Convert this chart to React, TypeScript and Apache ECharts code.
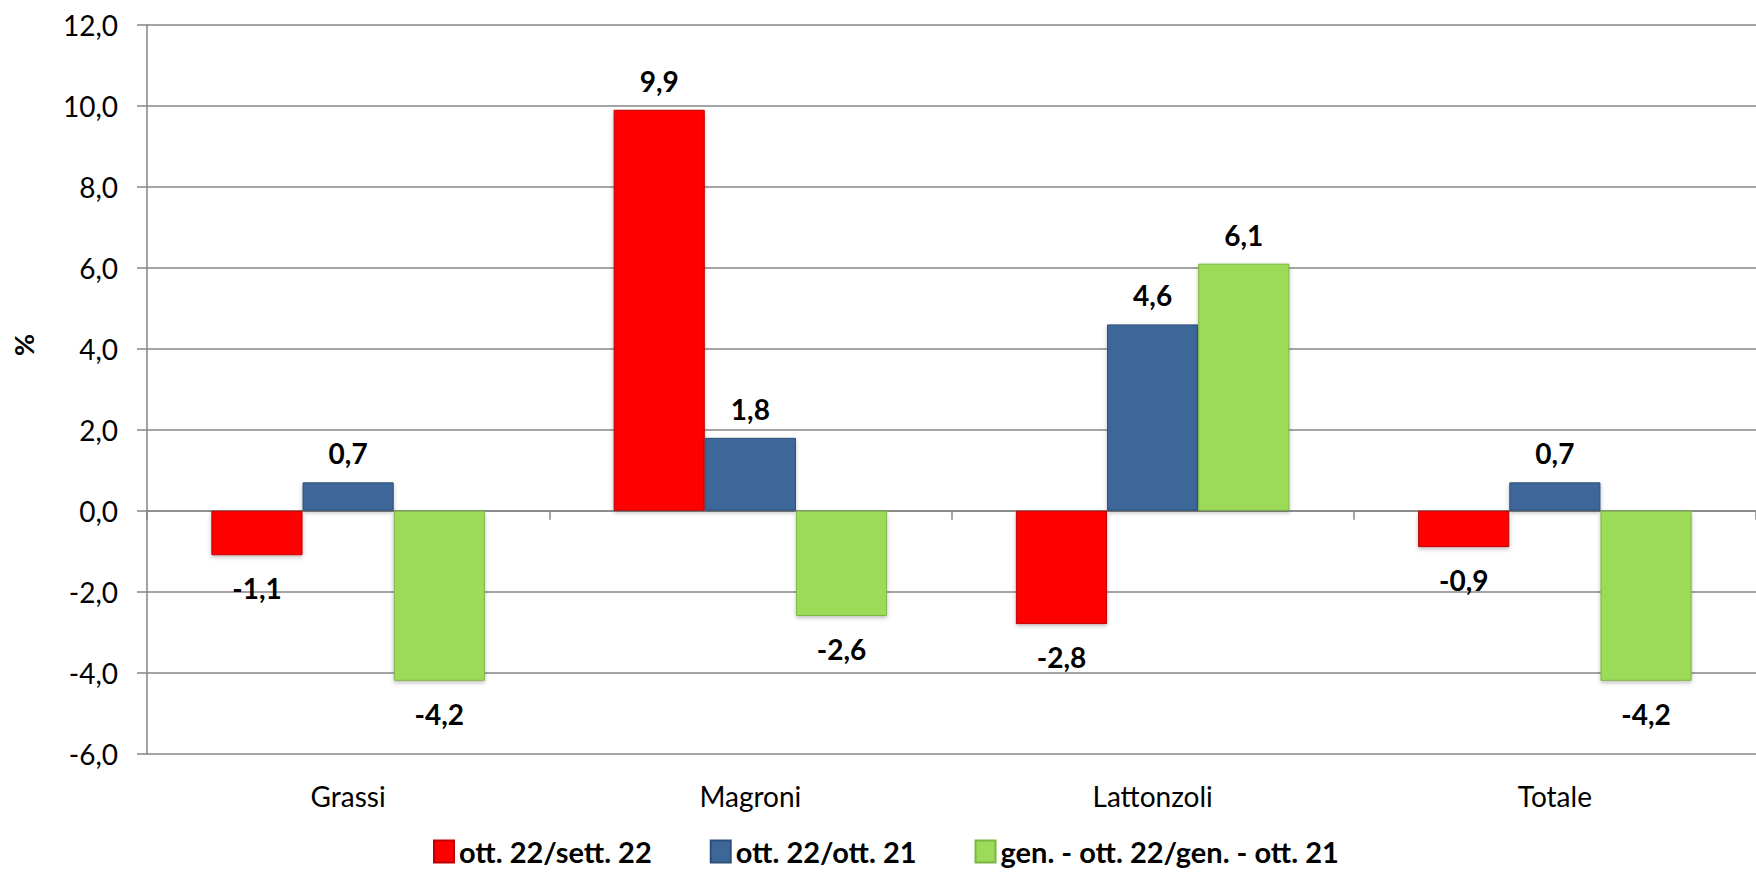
import React, { useEffect, useRef } from "react";
import * as echarts from "echarts";

const categories = ["Grassi", "Magroni", "Lattonzoli", "Totale"];
const seriesNames = ["ott. 22/sett. 22", "ott. 22/ott. 21", "gen. - ott. 22/gen. - ott. 21"];
const valuesMonth = [-1.1, 9.9, -2.8, -0.9];
const valuesYear = [0.7, 1.8, 4.6, 0.7];
const valuesCumulative = [-4.2, -2.6, 6.1, -4.2];
const colors = ["#FF0000", "#3D6699", "#9CDB59"];
const borders = ["#C00000", "#2E5079", "#7DB543"];

const FONT = "Lato, 'Open Sans', sans-serif";

function fmt(v: number) {
  return v.toFixed(1).replace(".", ",");
}

export default function App() {
  const ref = useRef<HTMLDivElement>(null);
  useEffect(() => {
    if (!ref.current) return;
    const chart = echarts.init(ref.current, undefined, { renderer: "svg" });
    const all = [valuesMonth, valuesYear, valuesCumulative];
    const series = all.map((vals, i) => ({
      name: seriesNames[i],
      type: "bar",
      xAxisIndex: 0,
      barGap: "0%",
      barCategoryGap: "32%",
      itemStyle: {
        color: colors[i],
        borderColor: borders[i],
        borderWidth: 1,
        shadowColor: "rgba(0,0,0,0.25)",
        shadowBlur: 4,
        shadowOffsetY: 2,
      },
      data: vals.map((v) => ({
        value: v,
        label: {
          show: true,
          position: v >= 0 ? "top" : "bottom",
          distance: v >= 0 ? 15 : 19,
          formatter: () => fmt(v),
          fontFamily: FONT,
          fontWeight: "bold",
          fontSize: 28,
          color: "#000",
        },
      })),
    }));
    chart.setOption({
      animation: false,
      textStyle: { fontFamily: FONT },
      grid: { left: 147, top: 24.7, right: 0, bottom: 118.3, containLabel: false },
      legend: {
        top: 837,
        left: 433,
        padding: 0,
        itemWidth: 20,
        itemHeight: 22,
        itemGap: 58,
        icon: "rect",
        textStyle: {
          fontFamily: FONT,
          fontWeight: "bold",
          fontSize: 29,
          lineHeight: 28,
          color: "#000",
        },
        data: seriesNames,
      },
      xAxis: [
        {
          type: "category",
          data: categories,
          axisLine: { onZero: true, lineStyle: { color: "#868686", width: 1.5 } },
          axisTick: { show: true, length: 9, lineStyle: { color: "#868686", width: 1.5 } },
          axisLabel: { show: false },
        },
        {
          type: "category",
          data: categories,
          position: "bottom",
          axisLine: { show: false, onZero: false },
          axisTick: { show: false },
          axisLabel: { show: true, margin: 28, fontFamily: FONT, fontSize: 28, color: "#000" },
        },
      ],
      yAxis: {
        type: "value",
        min: -6,
        max: 12,
        interval: 2,
        axisLine: { show: true, lineStyle: { color: "#868686", width: 1.5 } },
        axisTick: { show: true, length: 10, lineStyle: { color: "#868686", width: 1.5 } },
        splitLine: { show: true, lineStyle: { color: "#868686", width: 1.5 } },
        axisLabel: { margin: 29, fontFamily: FONT, fontSize: 28, color: "#000", formatter: (v: number) => fmt(v) },
      },
      graphic: [
        {
          type: "text",
          x: 23,
          y: 345,
          rotation: Math.PI / 2,
          style: {
            text: "%",
            fontFamily: FONT,
            fontWeight: "bold",
            fontSize: 27,
            fill: "#000",
            align: "center",
            verticalAlign: "middle",
          },
        },
      ],
      series,
    });
    return () => chart.dispose();
  }, []);
  return (
    <div
      ref={ref}
      style={{ position: "fixed", left: 0, top: 0, width: 1756, height: 872, background: "#fff" }}
    />
  );
}
